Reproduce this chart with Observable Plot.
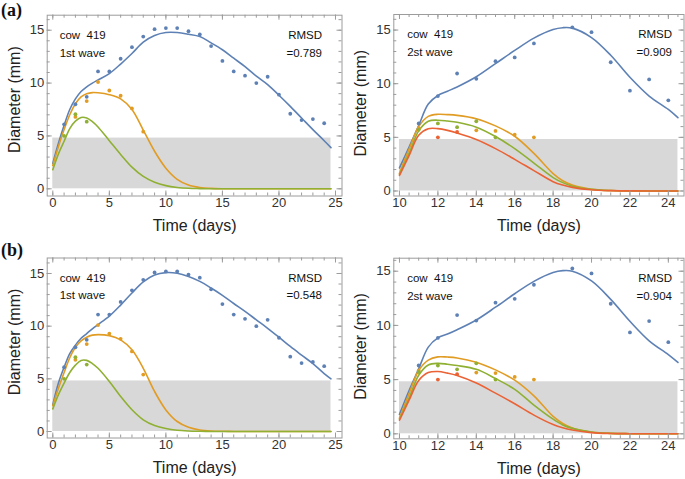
<!DOCTYPE html>
<html><head><meta charset="utf-8">
<script src="https://cdn.jsdelivr.net/npm/d3@7"></script>
<script src="https://cdn.jsdelivr.net/npm/@observablehq/plot@0.6"></script>
<style>
body{margin:0;background:#fff;}
#wrap{position:relative;width:685px;height:479px;overflow:hidden;background:#fff;}
.panel{position:absolute;z-index:1;}
.tag{position:absolute;z-index:2;font-family:"Liberation Serif","Times New Roman",serif;font-weight:bold;font-size:18px;line-height:1;color:#111;}
</style></head><body>
<div id="wrap">
  <div class="tag" style="left:1px;top:1px">(a)</div>
  <div class="tag" style="left:1px;top:241px">(b)</div>
</div>
<script>
// ---------- observed data (wave 1) ----------
const w1BlueDays = [1,2,3,4,5,6,7,8,9,10,11,12,13,14,15,16,17,18,19,20,21,22,23,24];
const w1BlueVals = [6.1,8.0,8.7,11.1,11.1,12.3,13.4,14.4,15.1,15.2,15.2,14.9,14.6,13.5,12.1,11.1,10.7,10.0,10.6,8.9,7.1,6.5,6.6,6.2];
const w1OrangeDays = [2,3,4,5,6,7,8];
const w1OrangeVals = [6.8,8.3,10.1,9.3,8.8,7.6,5.4];
const w1GreenDays = [1,2,3];
const w1GreenVals = [5.0,7.05,6.35];

// ---------- observed data (wave 2) ----------
const w2BlueDays = [11,12,13,14,15,16,17,19,20,21,22,23,24];
const w2BlueVals = [6.3,8.85,10.95,10.45,12.1,12.45,13.75,15.25,14.8,12.0,9.35,10.4,8.45];
const w2OrangeDays = [11,14,15,16,17];
const w2OrangeVals = [5.85,5.65,5.6,5.25,5.0];
const w2GreenDays = [11,12,13,14,15];
const w2GreenVals = [5.7,6.3,5.95,6.5,5.0];
const w2RedDays = [12,13];
const w2RedVals = [5.0,5.5];

// ---------- fitted curves ----------
const fitT1 = [0,0.5,1,1.5,2,2.5,3,3.5,4,5,6,7,8,9,10,11,12,13,14,15,16,17,18,19,20,21,22,23,24,24.6];
const a1Blue   = [2.4,4.3,6.0,7.5,8.5,9.2,9.65,10.0,10.3,10.9,11.8,12.8,13.87,14.5,14.78,14.78,14.62,14.4,13.8,13.15,12.35,11.55,10.65,9.85,8.85,7.8,6.7,5.6,4.55,3.9];
const a1Orange = [2.2,4.0,5.6,7.0,8.05,8.7,9.0,9.1,9.08,8.9,8.5,7.5,5.55,3.55,1.95,0.9,0.35,0.12,0.04,0.01,0,0,0,0,0,0,0,0,0,0];
const a1Green  = [1.8,3.3,4.5,5.7,6.4,6.75,6.7,6.35,5.85,4.55,3.25,2.05,1.17,0.62,0.3,0.13,0.05,0.02,0,0,0,0,0,0,0,0,0,0,0,0];
const b1Blue   = [2.55,4.6,6.1,7.4,8.2,8.85,9.3,9.75,10.15,10.95,12.0,13.15,14.2,14.85,15.08,15.02,14.72,14.25,13.62,12.92,12.15,11.4,10.6,9.8,8.95,8.07,7.25,6.45,5.5,5.0];
const b1Orange = [2.45,4.1,5.6,7.0,8.0,8.6,8.95,9.15,9.2,9.1,8.7,7.75,6.0,3.8,2.05,0.95,0.4,0.15,0.05,0.02,0,0,0,0,0,0,0,0,0,0];
const b1Green  = [2.15,3.5,4.6,5.6,6.3,6.75,6.75,6.45,6.0,4.75,3.32,2.06,1.11,0.57,0.28,0.12,0.05,0.02,0,0,0,0,0,0,0,0,0,0,0,0];

const fitT2 = [10,10.5,11,11.5,12,12.5,13,14,15,16,17,18,18.5,19,20,21,22,23,24,24.5];
const a2Blue   = [2.15,4.1,6.1,8.1,8.9,9.3,9.7,10.65,11.87,13.1,14.25,15.05,15.22,15.18,14.3,12.65,10.6,8.85,7.6,6.84];
const a2Orange = [1.65,3.9,6.0,6.95,7.15,7.12,7.05,6.74,6.07,5.1,3.5,1.62,0.95,0.55,0.16,0.04,0.01,0,0,0];
const a2Green  = [1.55,3.5,5.6,6.5,6.6,6.52,6.4,5.95,5.08,3.95,2.6,1.25,0.78,0.45,0.15,0.04,0.01,0,0,0];
const a2Red    = [1.45,3.3,5.19,5.8,5.81,5.65,5.4,4.8,3.95,2.95,1.9,0.87,0.55,0.34,0.11,0.03,0.01,0,0,0];
const b2Blue   = [1.8,4.0,6.0,8.0,8.85,9.2,9.6,10.5,11.68,12.92,14.06,14.88,15.05,15.0,14.1,12.4,10.38,8.58,7.3,6.58];
const b2Orange = [1.45,3.7,5.84,6.8,7.1,7.08,7.0,6.61,5.9,4.95,3.5,1.6,0.95,0.53,0.15,0.04,0.01,0,0,0];
const b2Green  = [1.35,3.3,5.4,6.35,6.5,6.42,6.3,5.95,5.1,4.1,2.65,1.35,0.82,0.5,0.17,0.04,0.01,0,0,0];
const b2Red    = [1.25,3.1,4.92,5.65,5.75,5.6,5.38,4.68,3.75,2.77,1.72,0.85,0.55,0.35,0.11,0.03,0.01,0,0,0];

// ---------- shaded band ----------
const band1 = {x1: 0, x2: 24.6, y1: 0, y2: 4.8};
const band2 = {x1: 10, x2: 24.5, y1: 0, y2: 4.8};

// ---------- ticks & labels ----------
const xMajor1 = [0,5,10,15,20,25];
const xMinor1 = d3.range(0, 26, 1);
const xMajor2 = [10,12,14,16,18,20,22,24];
const xMinor2 = d3.range(10, 24.75, 0.5);
const yMajor = [0,5,10,15];
const yMinor = d3.range(0, 17, 1);
const xLabel = "Time (days)";
const yLabel = "Diameter (mm)";
const cowLabel = "cow\u00a0 419";
const wave1Label = "1st wave";
const wave2Label = "2st wave";
const rmsd = {a1: "=0.789", a2: "=0.909", b1: "=0.548", b2: "=0.904"};

const C = {blue: "#5E81B5", orange: "#E19C24", green: "#8FB032", red: "#EB6235"};
const FRAME = "#9c9c9c";
const FONT = "'Liberation Sans', Arial, Helvetica, sans-serif";

const rows = (t, v) => t.map((d, i) => ({t: d, v: v[i]}));

function panel(cfg) {
  const pw = cfg.width - cfg.ml - cfg.mr;
  const ph = cfg.height - cfg.mt - cfg.mb;
  const marks = [
    Plot.rect([cfg.band], {x1: "x1", x2: "x2", y1: "y1", y2: "y2", fill: "#d8d8d8"}),
    ...cfg.curves.map(c => Plot.line(rows(c.t, c.v), {x: "t", y: "v", stroke: c.color, strokeWidth: 1.6, curve: "catmull-rom"})),
    ...cfg.points.map(p => Plot.dot(rows(p.t, p.v), {x: "t", y: "v", r: 1.9, fill: p.color, stroke: "none"})),
    Plot.frame({stroke: FRAME}),
    // inward ticks (bottom/top/left/right)
    Plot.tickX(cfg.xMajor, {x: d => d, insetTop: ph - 5, stroke: FRAME}),
    Plot.tickX(cfg.xMinor, {x: d => d, insetTop: ph - 3, stroke: FRAME}),
    Plot.tickX(cfg.xMajor, {x: d => d, insetBottom: ph - 5, stroke: FRAME}),
    Plot.tickX(cfg.xMinor, {x: d => d, insetBottom: ph - 3, stroke: FRAME}),
    Plot.tickY(yMajor, {y: d => d, insetRight: pw - 5, stroke: FRAME}),
    Plot.tickY(yMinor, {y: d => d, insetRight: pw - 3, stroke: FRAME}),
    Plot.tickY(yMajor, {y: d => d, insetLeft: pw - 5, stroke: FRAME}),
    Plot.tickY(yMinor, {y: d => d, insetLeft: pw - 3, stroke: FRAME}),
    Plot.axisX({ticks: cfg.xMajor, tickSize: 0, tickPadding: 2, tickFormat: d => String(d), label: null, fontSize: 13, fill: "#333"}),
    Plot.axisY({ticks: yMajor, tickSize: 0, tickPadding: 3, tickFormat: d => String(d), label: null, fontSize: 13, fill: "#333"}),
    Plot.text([xLabel], {frameAnchor: "bottom", textAnchor: "middle", lineAnchor: "middle", dy: cfg.xLabelDy, fontSize: 16, fill: "#222"}),
    Plot.text([yLabel], {frameAnchor: "left", textAnchor: "middle", lineAnchor: "middle", rotate: -90, dx: cfg.yLabelDx, dy: cfg.yLabelDy, fontSize: 16, fill: "#222"}),
    Plot.text([cowLabel + "\n" + cfg.wave], {frameAnchor: "top-left", textAnchor: "start", lineAnchor: "top", dx: cfg.textDx, dy: cfg.textDy, lineHeight: 1.55, fontSize: 11.5, fill: "#111"}),
    Plot.text(["RMSD\n" + cfg.rmsd], {frameAnchor: "top-right", textAnchor: "end", lineAnchor: "top", dx: cfg.rmsdDx, dy: cfg.textDy, lineHeight: 1.55, fontSize: 11.5, fill: "#111"})
  ];
  const svg = Plot.plot({
    width: cfg.width, height: cfg.height,
    marginLeft: cfg.ml, marginRight: cfg.mr, marginTop: cfg.mt, marginBottom: cfg.mb,
    x: {domain: cfg.xDomain},
    y: {domain: cfg.yDomain},
    style: {fontFamily: FONT, background: "transparent", overflow: "visible"},
    marks
  });
  const div = document.createElement("div");
  div.className = "panel";
  div.style.left = cfg.left + "px";
  div.style.top = cfg.top + "px";
  div.appendChild(svg);
  document.getElementById("wrap").appendChild(div);
}

const pts1 = [
  {t: w1OrangeDays, v: w1OrangeVals, color: C.orange},
  {t: w1GreenDays, v: w1GreenVals, color: C.green},
  {t: w1BlueDays, v: w1BlueVals, color: C.blue}
];
const pts2 = [
  {t: w2OrangeDays, v: w2OrangeVals, color: C.orange},
  {t: w2GreenDays, v: w2GreenVals, color: C.green},
  {t: w2RedDays, v: w2RedVals, color: C.red},
  {t: w2BlueDays, v: w2BlueVals, color: C.blue}
];

// (a) left
panel({left: 0, top: 0, width: 345, height: 240, ml: 46.7, mr: 3.5, mt: 14.7, mb: 44.5,
  xDomain: [-0.495, 25.575], yDomain: [-0.68, 16.42], xMajor: xMajor1, xMinor: xMinor1, band: band1,
  curves: [{t: fitT1, v: a1Blue, color: C.blue}, {t: fitT1, v: a1Orange, color: C.orange}, {t: fitT1, v: a1Green, color: C.green}],
  points: pts1, wave: wave1Label, rmsd: rmsd.a1,
  xLabelDy: 30, yLabelDx: -32, yLabelDy: -6, textDx: 12.5, textDy: 11, rmsdDx: -20});
// (a) right
panel({left: 340, top: 0, width: 345, height: 240, ml: 53.3, mr: 1.5, mt: 14, mb: 44.5,
  xDomain: [9.704, 24.816], yDomain: [-0.467, 16.45], xMajor: xMajor2, xMinor: xMinor2, band: band2,
  curves: [{t: fitT2, v: a2Blue, color: C.blue}, {t: fitT2, v: a2Orange, color: C.orange}, {t: fitT2, v: a2Green, color: C.green}, {t: fitT2, v: a2Red, color: C.red}],
  points: pts2, wave: wave2Label, rmsd: rmsd.a2,
  xLabelDy: 30, yLabelDx: -33, yLabelDy: -2, textDx: 13.4, textDy: 11, rmsdDx: -12});
// (b) left
panel({left: 0, top: 240, width: 345, height: 239, ml: 46.7, mr: 3.5, mt: 17.5, mb: 41.5,
  xDomain: [-0.495, 25.575], yDomain: [-0.617, 16.47], xMajor: xMajor1, xMinor: xMinor1, band: band1,
  curves: [{t: fitT1, v: b1Blue, color: C.blue}, {t: fitT1, v: b1Orange, color: C.orange}, {t: fitT1, v: b1Green, color: C.green}],
  points: pts1, wave: wave1Label, rmsd: rmsd.b1,
  xLabelDy: 30, yLabelDx: -32, yLabelDy: -6, textDx: 12.5, textDy: 11, rmsdDx: -20});
// (b) right
panel({left: 340, top: 240, width: 345, height: 239, ml: 53.3, mr: 1.5, mt: 17.7, mb: 40.7,
  xDomain: [9.704, 24.816], yDomain: [-0.46, 16.2], xMajor: xMajor2, xMinor: xMinor2, band: band2,
  curves: [{t: fitT2, v: b2Blue, color: C.blue}, {t: fitT2, v: b2Orange, color: C.orange}, {t: fitT2, v: b2Green, color: C.green}, {t: fitT2, v: b2Red, color: C.red}],
  points: pts2, wave: wave2Label, rmsd: rmsd.b2,
  xLabelDy: 30, yLabelDx: -33, yLabelDy: -2, textDx: 13.4, textDy: 11, rmsdDx: -12});
</script>
</body></html>
